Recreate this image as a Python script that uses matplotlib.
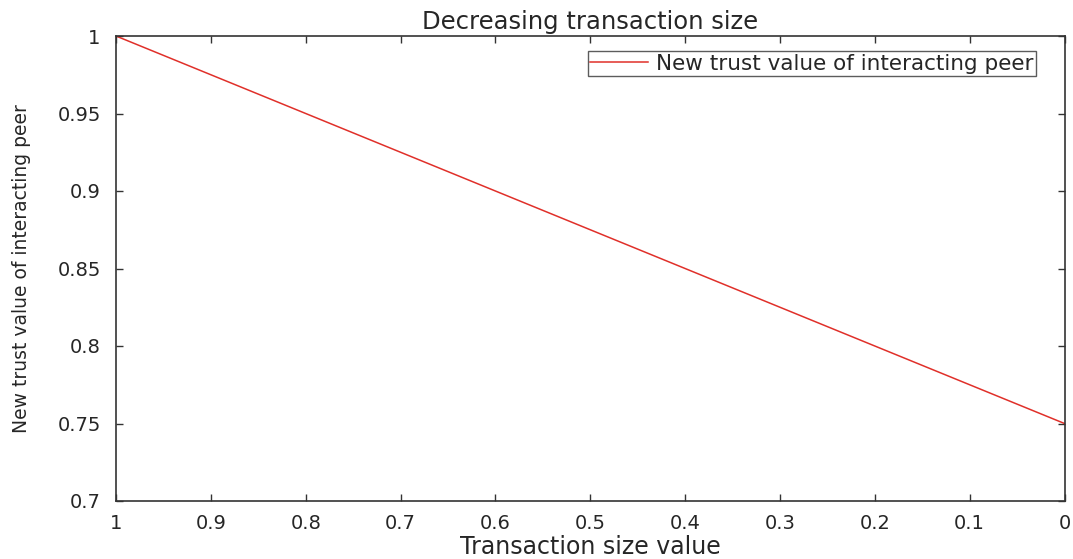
import matplotlib
matplotlib.use("Agg")
import matplotlib.pyplot as plt
import numpy as np

# Data
transaction_size = [1.0, 0.0]
new_trust = [1.0, 0.75]
x_ticks = [1, 0.9, 0.8, 0.7, 0.6, 0.5, 0.4, 0.3, 0.2, 0.1, 0]
x_tick_labels = ["1", "0.9", "0.8", "0.7", "0.6", "0.5", "0.4", "0.3", "0.2", "0.1", "0"]
y_ticks = [0.7, 0.75, 0.8, 0.85, 0.9, 0.95, 1.0]
y_tick_labels = ["0.7", "0.75", "0.8", "0.85", "0.9", "0.95", "1"]

txt = "#262626"
plt.rcParams['font.family'] = ['DejaVu Sans']

fig = plt.figure(figsize=(10.73, 5.59), dpi=100)
ax = fig.add_axes([116/1073, 58/559, 948.5/1073, 465/559])

ax.plot(transaction_size, new_trust, color="#e0302a", lw=1.1,
        label="New trust value of interacting peer")
ax.set_xlim(1, 0)
ax.set_ylim(0.7, 1.0)
ax.set_xticks(x_ticks)
ax.set_xticklabels(x_tick_labels)
ax.set_yticks(y_ticks)
ax.set_yticklabels(y_tick_labels)

for s in ax.spines.values():
    s.set_color("#333333")
    s.set_linewidth(1.2)
ax.tick_params(direction="in", length=5, width=1.0, color="#333333",
               labelcolor=txt, labelsize=14, top=True, right=True)
ax.tick_params(axis="y", pad=11)
ax.tick_params(axis="x", pad=9.5)

ax.set_title("Decreasing transaction size", fontsize=17.5, color=txt, pad=5)
ax.set_xlabel("Transaction size value", fontsize=17, color=txt, labelpad=1)
ax.set_ylabel("New trust value of interacting peer", fontsize=13.5, color=txt)
ax.yaxis.set_label_coords(-0.09, 0.5)

leg = ax.legend(loc="upper right", bbox_to_anchor=(1036/1073, 1 - 51/559),
                bbox_transform=fig.transFigure, fontsize=15.5, frameon=True,
                fancybox=False, edgecolor="#333333", handlelength=2.7,
                borderpad=0.12, handletextpad=0.35, borderaxespad=0)
leg.get_frame().set_linewidth(1.0)
for t in leg.get_texts():
    t.set_color(txt)

fig.savefig("out.png", dpi=100)
